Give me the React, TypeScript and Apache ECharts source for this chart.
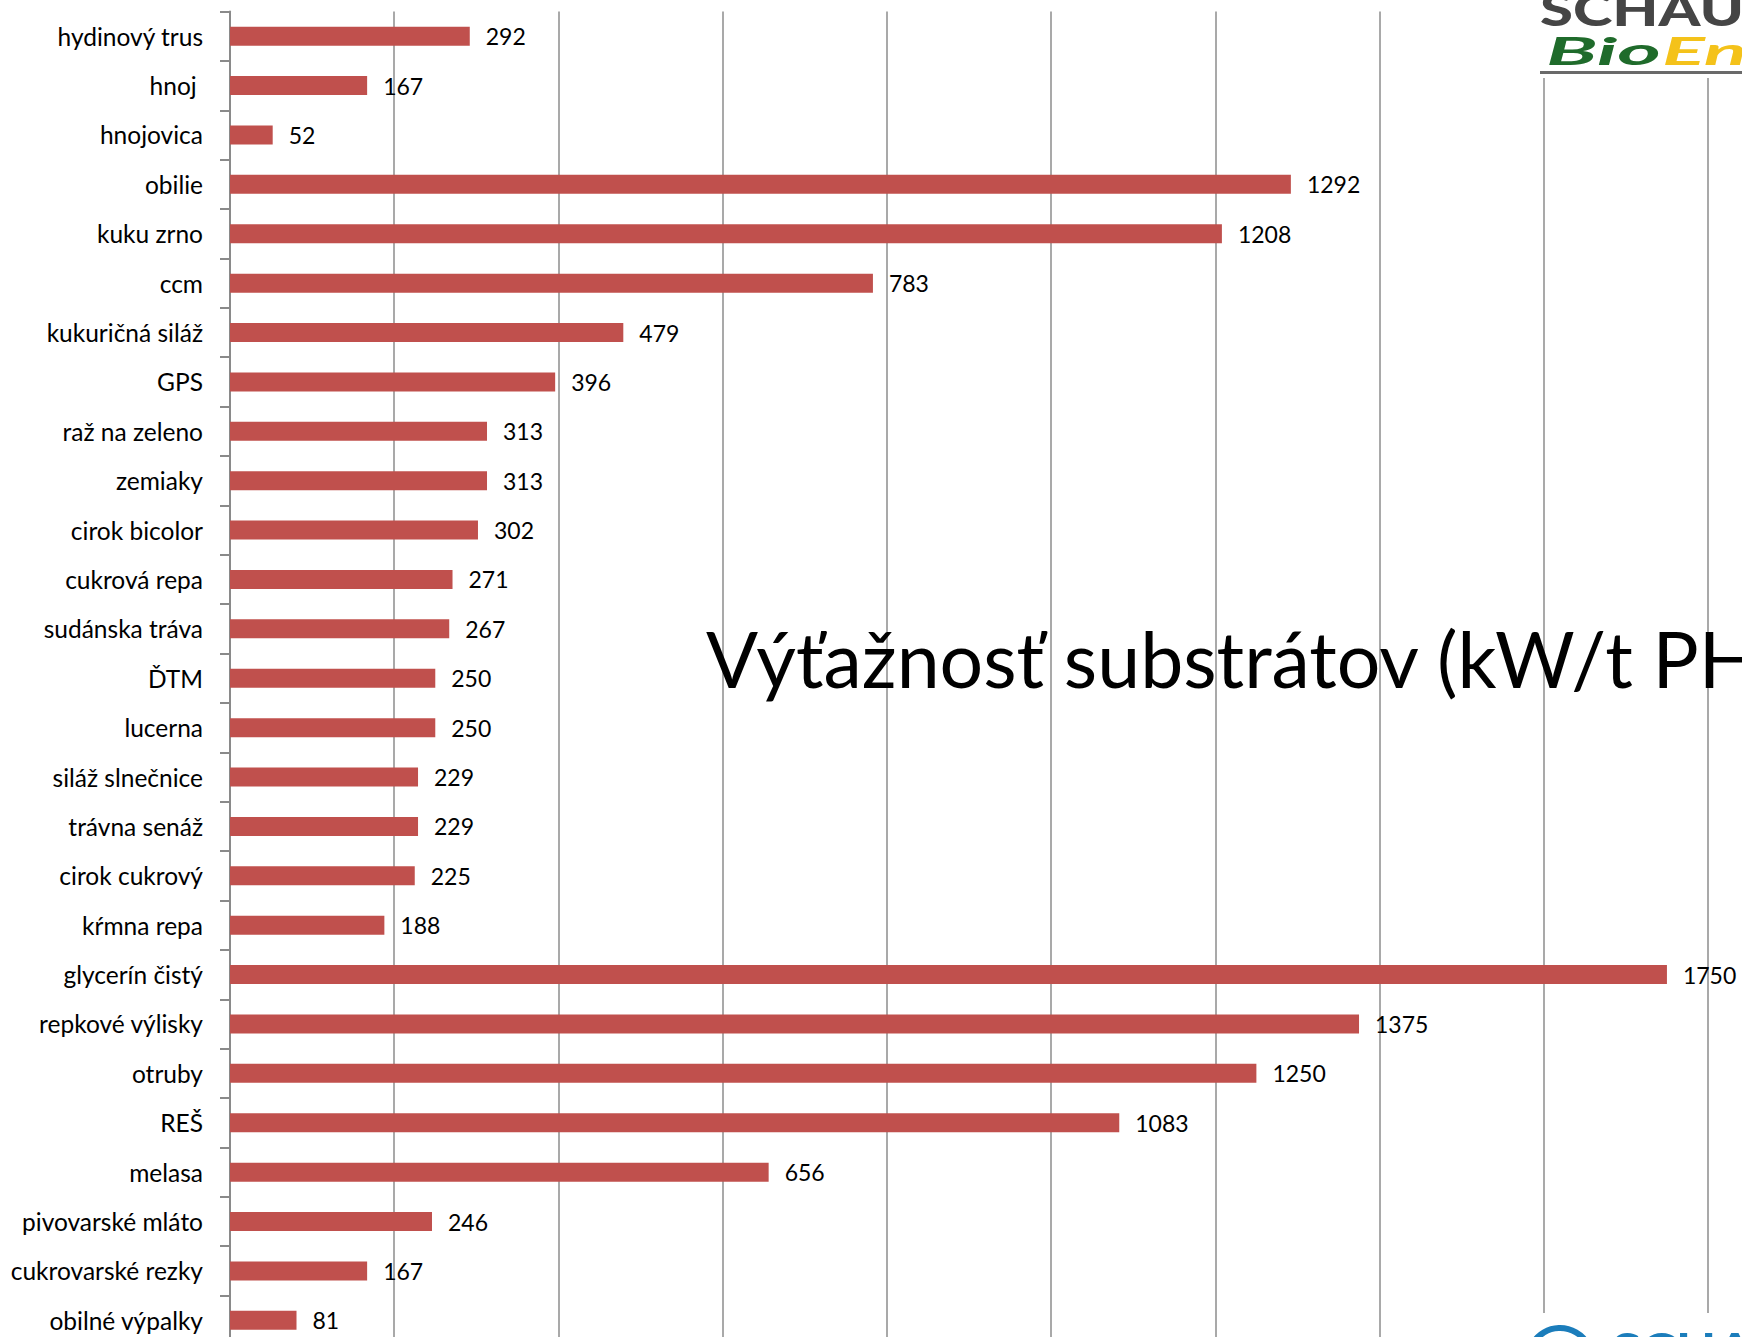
import React, { useEffect, useRef } from "react";
import * as echarts from "echarts";

const categories = [
  "hydinový trus", "hnoj ", "hnojovica", "obilie", "kuku zrno", "ccm",
  "kukuričná siláž", "GPS", "raž na zeleno", "zemiaky", "cirok bicolor",
  "cukrová repa", "sudánska tráva", "ĎTM", "lucerna", "siláž slnečnice",
  "trávna senáž", "cirok cukrový", "kŕmna repa", "glycerín čistý",
  "repkové výlisky", "otruby", "REŠ", "melasa", "pivovarské mláto",
  "cukrovarské rezky", "obilné výpalky",
];
const values = [
  292, 167, 52, 1292, 1208, 783, 479, 396, 313, 313, 302, 271, 267, 250, 250,
  229, 229, 225, 188, 1750, 1375, 1250, 1083, 656, 246, 167, 81,
];
const titleText = "Výťažnosť substrátov (kW/t PH)";
const xMin = 0;
const xMax = 1800;
const xStep = 200;

export default function App() {
  const ref = useRef<HTMLDivElement>(null);
  useEffect(() => {
    document.body.style.margin = "0";
    document.body.style.overflow = "hidden";
    document.documentElement.style.overflow = "hidden";
    const chart = echarts.init(ref.current!, null, { renderer: "svg" });
    const font = "Lato";
    chart.setOption({
      animation: false,
      backgroundColor: "#ffffff",
      grid: { left: 230, right: 34, top: 11.5, bottom: 0, containLabel: false },
      xAxis: {
        type: "value",
        min: xMin,
        max: xMax,
        interval: xStep,
        axisLabel: { show: false },
        axisLine: { show: false },
        axisTick: { show: false },
        splitLine: { show: true, lineStyle: { color: "#8c8c8c", width: 1.5 } },
      },
      yAxis: {
        type: "category",
        data: categories,
        inverse: true,
        axisLine: { show: true, lineStyle: { color: "#8a8a8a", width: 2 } },
        axisTick: { show: true, length: 10, lineStyle: { color: "#8a8a8a", width: 2 } },
        axisLabel: { margin: 27, color: "#000", fontFamily: font, fontSize: 24.5 },
        splitLine: { show: false },
      },
      series: [
        {
          type: "bar",
          data: values,
          barWidth: 19,
          itemStyle: { color: "#C0504D" },
          label: {
            show: true,
            position: "right",
            distance: 16,
            color: "#000",
            fontFamily: font,
            fontSize: 23,
          },
          z: 3,
        },
      ],
      graphic: [
        {
          type: "text",
          x: 706,
          y: 696,
          z: 10,
          style: {
            text: titleText,
            font: `77px ${font}`,
            fill: "#000",
            verticalAlign: "bottom",
          },
        },
        {
          type: "rect",
          z: 10,
          shape: { x: 1532, y: 0, width: 220, height: 78 },
          style: { fill: "#ffffff" },
        },
        {
          type: "text",
          x: 1540,
          y: 8,
          z: 11,
          scaleX: 1.3,
          style: {
            text: "SCHAUMANN",
            font: `900 46px ${font}`,
            fill: "#454545",
            verticalAlign: "middle",
          },
        },
        {
          type: "text",
          x: 1546,
          y: 50,
          z: 11,
          scaleX: 2.2,
          style: {
            text: "Bio",
            font: `italic bold 38px ${font}`,
            fill: "#1f6b2b",
            verticalAlign: "middle",
          },
        },
        {
          type: "text",
          x: 1662,
          y: 50,
          z: 11,
          scaleX: 2.1,
          style: {
            text: "Energy",
            font: `italic bold 38px ${font}`,
            fill: "#f4c21a",
            verticalAlign: "middle",
          },
        },
        {
          type: "rect",
          z: 11,
          shape: { x: 1540, y: 71, width: 210, height: 3 },
          style: { fill: "#6a6a6a" },
        },
        {
          type: "rect",
          z: 10,
          shape: { x: 1500, y: 1313, width: 250, height: 40 },
          style: { fill: "#ffffff" },
        },
        {
          type: "circle",
          z: 11,
          shape: { cx: 1560, cy: 1360, r: 32 },
          style: { fill: "none", stroke: "#1b7dbb", lineWidth: 6 },
        },
        {
          type: "text",
          x: 1612,
          y: 1326,
          z: 11,
          scaleX: 1.2,
          style: {
            text: "SCHAUMANN",
            font: `bold 44px ${font}`,
            fill: "#1b7dbb",
            verticalAlign: "top",
          },
        },
      ],
    });
    return () => chart.dispose();
  }, []);
  return <div ref={ref} style={{ width: 1742, height: 1345 }} />;
}
